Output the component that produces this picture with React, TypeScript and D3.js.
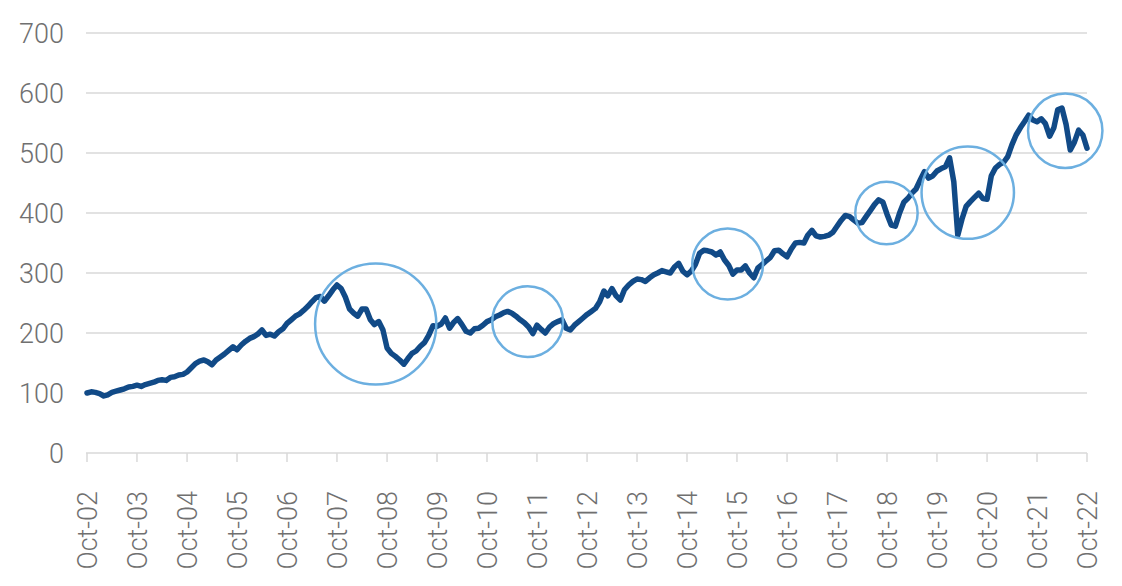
import React, { useEffect, useRef } from 'react';
import * as d3 from 'd3';

// monthly index level, Oct-02 = 100, one value per month up to Oct-22
const startMonth = new Date(2002, 9, 1);
const indexValues: number[] = [
    100, 102, 101, 99, 95, 97, 101, 103, 105, 107, 110, 111,
    113, 111, 114, 116, 118, 121, 122, 121, 126, 127, 130, 131,
    135, 142, 149, 153, 155, 152, 147, 155, 160, 165, 171, 177,
    172, 180, 186, 191, 194, 198, 205, 196, 198, 195, 202, 207,
    216, 222, 228, 232, 238, 244, 252, 259, 261, 253, 262, 272,
    280, 274, 260, 240, 233, 228, 240, 240, 222, 214, 219, 205,
    175, 166, 161, 155, 148, 157, 166, 170, 178, 184, 196, 212,
    211, 215, 225, 208, 218, 224, 214, 203, 200, 207, 208, 213,
    219, 222, 227, 230, 234, 236, 233, 228, 222, 217, 210, 199,
    213, 206, 200, 210, 216, 219, 222, 208, 205, 213, 219, 225,
    231, 236, 241, 252, 270, 262, 274, 262, 255, 272, 280, 286,
    290, 289, 286, 292, 297, 300, 304, 302, 300, 310, 316, 303,
    297, 303, 314, 333, 338, 337, 335, 330, 335, 322, 313, 298,
    305, 305, 312, 300, 292, 308, 314, 320, 326, 337, 338, 332,
    327, 340, 350, 351, 350, 363, 371, 362, 360, 361, 363, 368,
    378, 388, 396, 394, 388, 383, 384, 394, 404, 414, 422, 418,
    398, 380, 378, 400, 418, 424, 433, 440, 455, 469, 458, 462,
    470, 474, 477, 492, 452, 363, 390, 411, 419, 426, 433, 424,
    423, 462, 475, 481, 485, 494, 514, 530, 542, 552, 563, 555,
    552, 557, 549, 528, 542, 572, 575, 548, 505, 518, 538, 530,
    508,
];

const yTicks = [0, 100, 200, 300, 400, 500, 600, 700];
const tickYears = d3.range(2002, 2023);

// drawdown episodes that are circled on the chart
const circleDates = [
    new Date(2008, 6, 10),
    new Date(2011, 6, 25),
    new Date(2015, 6, 25),
    new Date(2018, 8, 27),
    new Date(2020, 4, 13),
    new Date(2022, 3, 25),
];
const circleLevels = [215, 219, 315, 400, 434, 537];
const circleRadii = [101, 59, 59, 52, 77, 62];

const width = 1122;
const height = 586;
const margin = { top: 33, right: 35, bottom: 133, left: 87 };

const App: React.FC = () => {
    const svgRef = useRef<SVGSVGElement | null>(null);

    useEffect(() => {
        if (svgRef.current) {
            drawChart();
        }
    }, []);

    const drawChart = () => {
        const svg = d3.select(svgRef.current);
        svg.selectAll('*').remove();

        const data = indexValues.map((v, i) => ({
            date: d3.timeMonth.offset(startMonth, i),
            value: v,
        }));

        const x = d3
            .scaleTime()
            .domain([startMonth, new Date(2022, 9, 1)])
            .range([margin.left, width - margin.right]);

        const y = d3
            .scaleLinear()
            .domain([0, 700])
            .range([height - margin.bottom, margin.top]);

        const font = 'Roboto, "Liberation Sans", Arial, sans-serif';
        const textColor = '#707070';
        const gridColor = '#d9d9d9';

        // horizontal grid lines (the 0 line doubles as the axis)
        svg.append('g')
            .selectAll('line')
            .data(yTicks)
            .enter()
            .append('line')
            .attr('x1', margin.left - 1)
            .attr('x2', width - margin.right)
            .attr('y1', (d) => y(d))
            .attr('y2', (d) => y(d))
            .style('stroke', gridColor)
            .style('stroke-width', 1.5);

        svg.append('g')
            .selectAll('text')
            .data(yTicks)
            .enter()
            .append('text')
            .attr('x', margin.left - 23)
            .attr('y', (d) => y(d))
            .attr('dy', '0.36em')
            .style('text-anchor', 'end')
            .style('font-family', font)
            .style('font-weight', 300)
            .style('font-size', '27px')
            .style('fill', textColor)
            .text((d) => d);

        // x axis tick marks and rotated labels
        const ticks = tickYears.map((yr) => new Date(yr, 9, 1));
        const fmt = d3.timeFormat('%b-%y');

        svg.append('g')
            .selectAll('line')
            .data(ticks)
            .enter()
            .append('line')
            .attr('x1', (d) => x(d))
            .attr('x2', (d) => x(d))
            .attr('y1', y(0))
            .attr('y2', y(0) + 9)
            .style('stroke', gridColor)
            .style('stroke-width', 1.5);

        svg.append('g')
            .selectAll('text')
            .data(ticks)
            .enter()
            .append('text')
            .attr('transform', (d) => `translate(${x(d)}, ${y(0) + 38}) rotate(-90)`)
            .attr('dy', '0.36em')
            .style('text-anchor', 'end')
            .style('font-family', font)
            .style('font-weight', 300)
            .style('font-size', '27px')
            .style('fill', textColor)
            .text((d) => fmt(d));

        const line = d3
            .line<{ date: Date; value: number }>()
            .x((d) => x(d.date))
            .y((d) => y(d.value));

        svg.append('path')
            .datum(data)
            .attr('d', line)
            .style('fill', 'none')
            .style('stroke', '#114a87')
            .style('stroke-width', 5.5)
            .style('stroke-linejoin', 'round')
            .style('stroke-linecap', 'round');

        svg.append('g')
            .selectAll('circle')
            .data(circleDates)
            .enter()
            .append('circle')
            .attr('cx', (d) => x(d))
            .attr('cy', (d, i) => y(circleLevels[i]))
            .attr('r', (d, i) => y(0) - y(circleRadii[i]))
            .style('fill', 'none')
            .style('stroke', '#6cafe0')
            .style('stroke-width', 2.5);
    };

    return (
        <svg
            ref={svgRef}
            width={width}
            height={height}
            style={{ position: 'absolute', left: 0, top: 0, background: '#fff' }}
        ></svg>
    );
};

export default App;
